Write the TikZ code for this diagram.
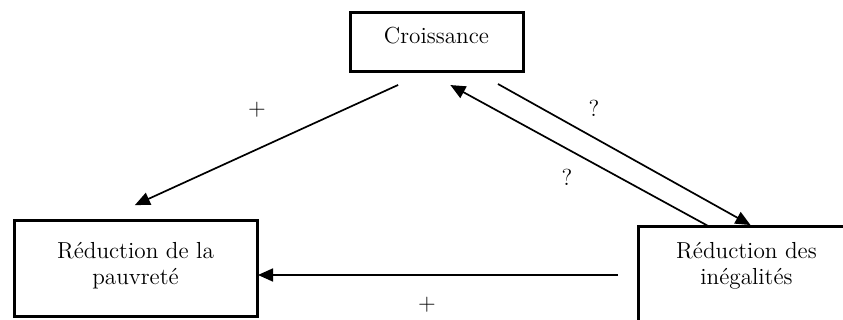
\documentclass[tikz,border=0pt]{standalone}
\usepackage{amsmath}
\usepackage{tikz}
\usetikzlibrary{arrows.meta}

\begin{document}
\begin{tikzpicture}[x=0.5pt,y=-0.5pt,
	box/.style={shape=rectangle,draw=black,line width=1.5pt,fill=white,inner sep=0pt,outer sep=0pt},
	arr/.style={-{Triangle[length=7.5pt,width=6.5pt]},line width=0.85pt},
	every node/.style={font=\fontsize{11.6}{13}\selectfont}]
	
	\clip (0,0) rectangle (843,320);
	
	\node[box,minimum width=86.5pt,minimum height=29.5pt] (cro) at (436.5, 42.5) {};
	\node[box,minimum width=121.5pt,minimum height=48pt] (pauv) at (135.5, 269) {};
	\node[box,minimum width=108.5pt,minimum height=48pt] (ineg) at (746.5, 275) {};
	
	\node (crotext) at (436.5, 36) {Croissance};
	\node[align=center] (pauvtext) at (135.5, 265.5) {R\'eduction de la\\pauvret\'e};
	\node[align=center] (inegtext) at (746.5, 266) {R\'eduction des\\in\'egalit\'es};
	
	\node (plusa) at (257, 110) {+};
	\node (questa) at (594, 108) {?};
	\node (questb) at (567, 177) {?};
	\node (plusb) at (427, 305) {+};
	
	\path[arr] ([xshift=-5pt]cro.south) edge [shorten <=15.6pt, shorten >=19.2pt] ([xshift=-17.75pt]pauv.north);
	\path[arr] ([xshift=20pt]cro.south) edge [shorten <=12.3pt, shorten >=2pt] ([xshift=3.75pt]ineg.north);
	\path[arr] ([xshift=36pt]ineg.north west) edge [shorten >=13.6pt] ([xshift=-5pt]cro.south);
	\path[arr] (ineg.west) edge [shorten <=10pt, shorten >=0.5pt] (ineg.west -| pauv.east);

	\end{tikzpicture}
\end{document}
